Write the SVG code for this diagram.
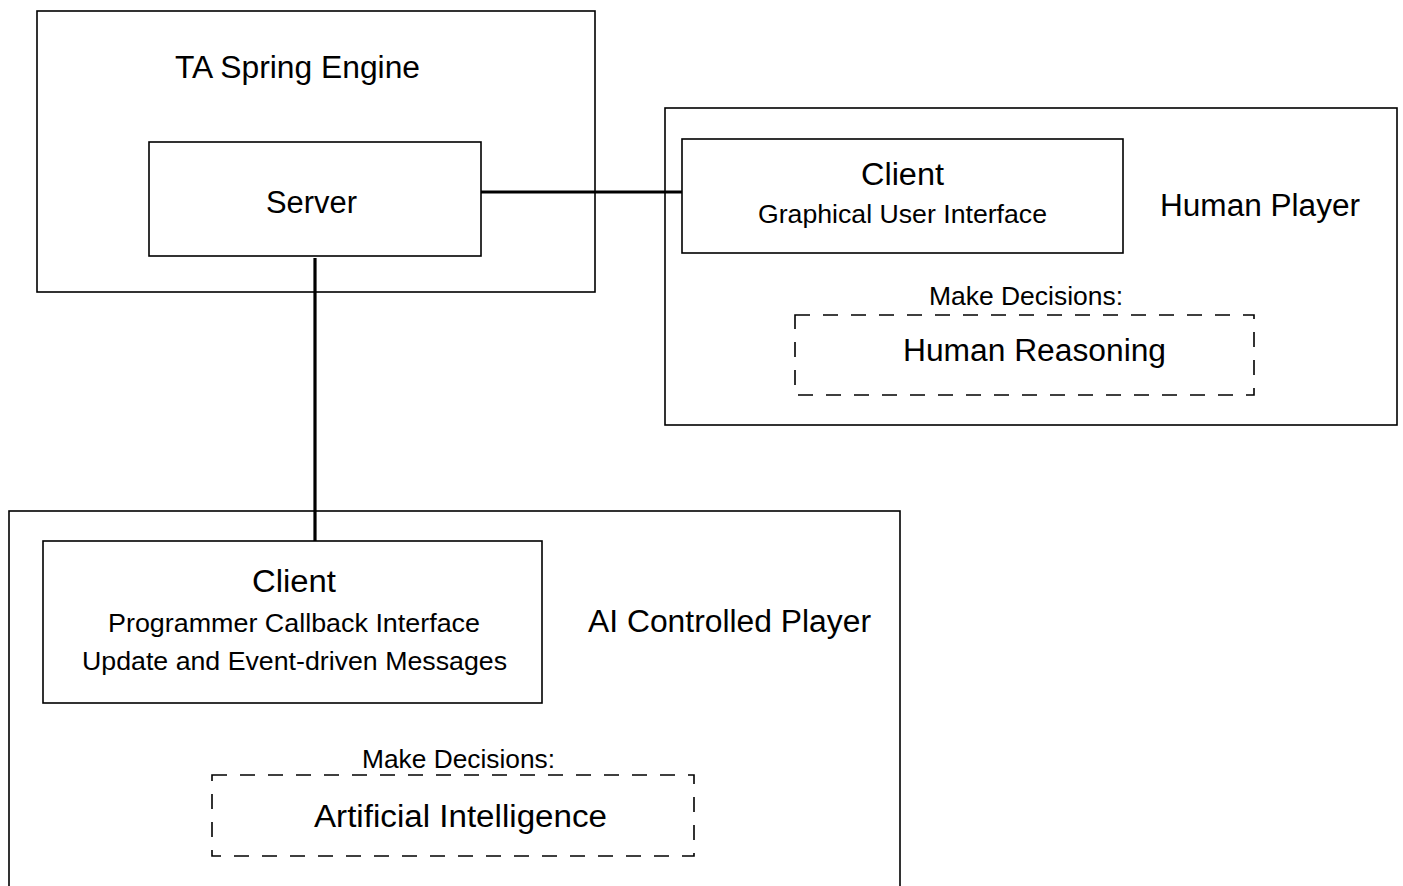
<svg xmlns="http://www.w3.org/2000/svg" width="1403" height="886" viewBox="0 0 1403 886">
<style>
.box{fill:none;stroke:#000;stroke-width:1.6}
.dash{fill:none;stroke:#000;stroke-width:1.6;stroke-dasharray:15 13}
.conn{fill:none;stroke:#000;stroke-width:3.2}
text{font-family:"Liberation Sans",Arial,sans-serif;fill:#000;text-anchor:middle}
.big{font-size:31px}
.mid{font-size:25px}
</style>
<rect width="1403" height="886" fill="#fff"/>
<g id="engine">
<rect class="box" x="37" y="11" width="558" height="281"/>
<text class="big" x="297.5" y="78" textLength="245" lengthAdjust="spacingAndGlyphs">TA Spring Engine</text>
</g>
<g id="server">
<rect class="box" x="149" y="142" width="332" height="114"/>
<text class="big" x="311.5" y="213" textLength="91" lengthAdjust="spacingAndGlyphs">Server</text>
</g>
<g id="human-player">
<rect class="box" x="665" y="108" width="732" height="317"/>
<text class="big" x="1260" y="216" textLength="200" lengthAdjust="spacingAndGlyphs">Human Player</text>
</g>
<g id="client-gui">
<rect class="box" x="682" y="139" width="441" height="114"/>
<text class="big" x="902.5" y="185" textLength="83" lengthAdjust="spacingAndGlyphs">Client</text>
<text class="mid" x="902.5" y="223" textLength="289" lengthAdjust="spacingAndGlyphs">Graphical User Interface</text>
</g>
<g id="human-reasoning">
<text class="mid" x="1026" y="305" textLength="194" lengthAdjust="spacingAndGlyphs">Make Decisions:</text>
<rect class="dash" x="795" y="315" width="459" height="80"/>
<text class="big" x="1034.5" y="361" textLength="263" lengthAdjust="spacingAndGlyphs">Human Reasoning</text>
</g>
<g id="ai-player">
<rect class="box" x="9" y="511" width="891" height="400"/>
<text class="big" x="729.5" y="632" textLength="283" lengthAdjust="spacingAndGlyphs">AI Controlled Player</text>
</g>
<g id="client-ai">
<rect class="box" x="43" y="541" width="499" height="162"/>
<text class="big" x="294" y="592" textLength="84" lengthAdjust="spacingAndGlyphs">Client</text>
<text class="mid" x="294" y="632" textLength="372" lengthAdjust="spacingAndGlyphs">Programmer Callback Interface</text>
<text class="mid" x="294.5" y="670" textLength="425" lengthAdjust="spacingAndGlyphs">Update and Event-driven Messages</text>
</g>
<g id="artificial-intelligence">
<text class="mid" x="458.5" y="768" textLength="193" lengthAdjust="spacingAndGlyphs">Make Decisions:</text>
<rect class="dash" x="212" y="775" width="482" height="81"/>
<text class="big" x="460.5" y="827" textLength="293" lengthAdjust="spacingAndGlyphs">Artificial Intelligence</text>
</g>
<g id="connectors">
<line class="conn" x1="481" y1="192" x2="682" y2="192"/>
<line class="conn" x1="315" y1="258" x2="315" y2="541"/>
</g>
</svg>
